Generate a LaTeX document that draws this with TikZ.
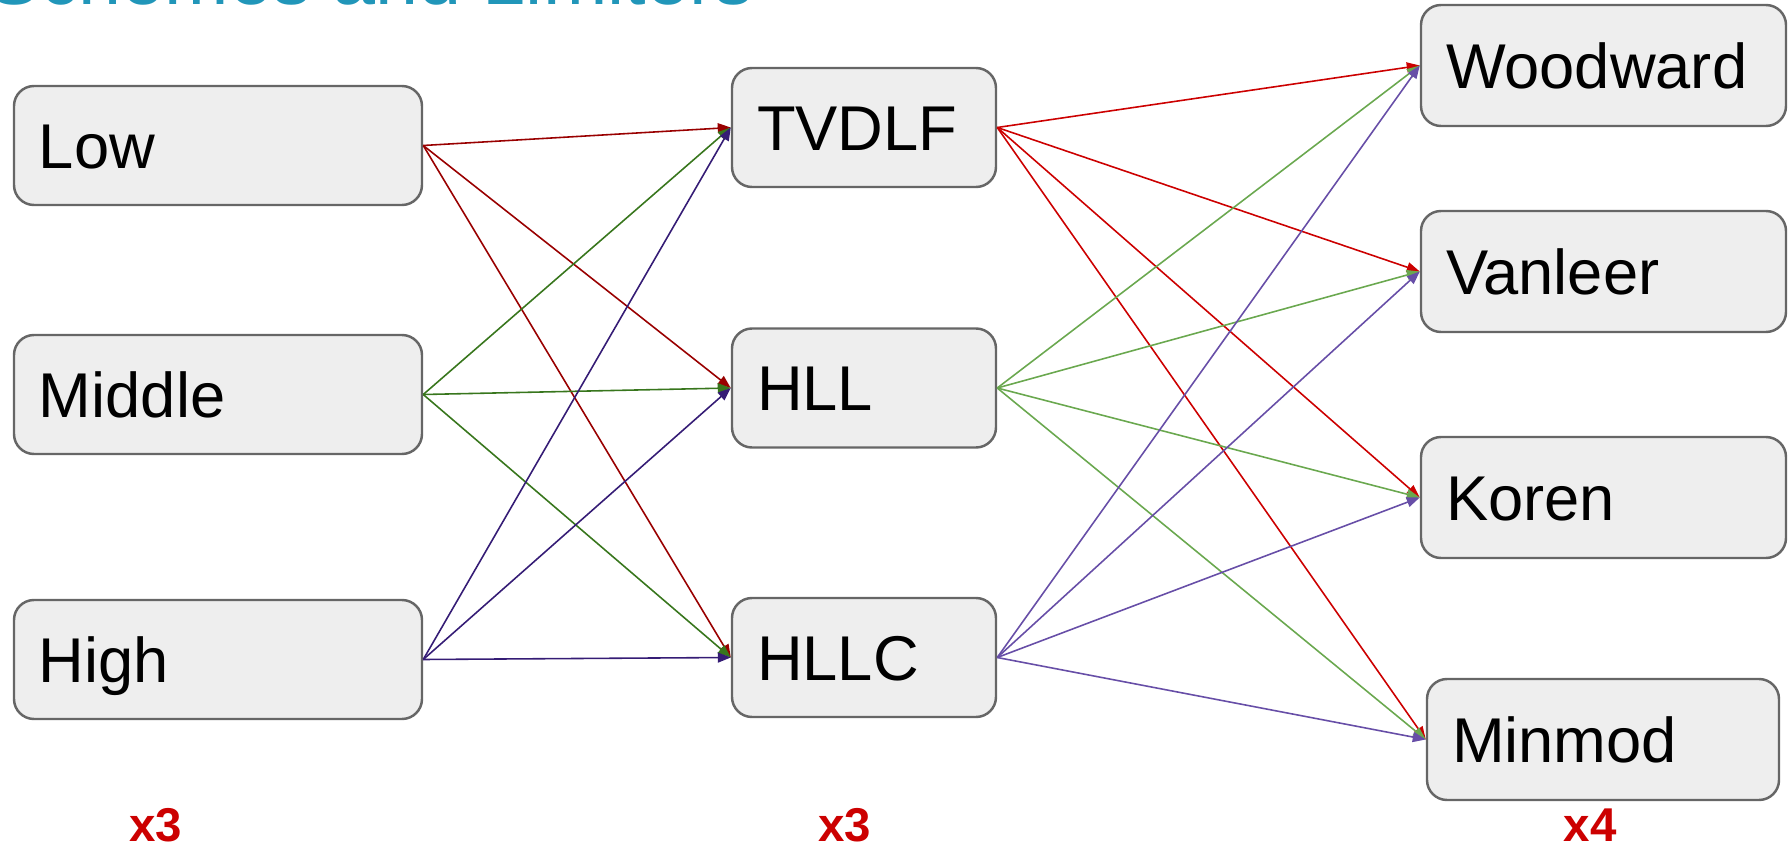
\documentclass[tikz,border=0pt]{standalone}
\usepackage{fontspec}
\setmainfont{Liberation Sans}
\usetikzlibrary{arrows.meta}
\definecolor{edge}{RGB}{102,102,102}
\definecolor{boxfill}{RGB}{238,238,238}
\definecolor{titleC}{RGB}{33,150,185}
\definecolor{lowC}{RGB}{153,0,0}
\definecolor{midC}{RGB}{56,118,29}
\definecolor{highC}{RGB}{53,28,117}
\definecolor{tvdC}{RGB}{204,0,0}
\definecolor{hllC}{RGB}{106,168,79}
\definecolor{hllcC}{RGB}{103,78,167}
\tikzset{
  box/.style={rectangle,rounded corners=2mm,draw=edge,fill=boxfill,line width=0.7pt,
    minimum height=1.19cm,inner xsep=0.25cm,align=left,text height=0.455cm,text depth=0pt,
    font=\fontsize{18}{20}\selectfont},
  lvl/.style={box,text width=3.58cm},
  slv/.style={box,text width=2.14cm},
  lim/.style={box,text width=3.15cm,minimum height=1.21cm},
  arr/.style={-{Triangle[length=1.3mm,width=1mm]},line width=0.45pt},
  count/.style={font=\fontsize{13.5}{15}\selectfont\bfseries,text=tvdC,inner sep=0pt},
}
\begin{document}
\begin{tikzpicture}
\useasboundingbox (0,0) rectangle (17.89,-8.46);
\clip (0,0) rectangle (17.89,-8.46);
% heading, cut at the top edge
\node[anchor=base west,inner sep=0pt,text=titleC,font=\fontsize{22}{24}\selectfont]
  (head) at (-0.12,-0.05) {Schemes and Limiters};
% resolution levels
\node[lvl] (low)  at (2.18,-1.455) {Low};
\node[lvl] (mid)  at (2.18,-3.945) {Middle};
\node[lvl] (high) at (2.18,-6.595) {High};
% solvers
\node[slv] (tvd)  at (8.64,-1.275) {TVDLF};
\node[slv] (hll)  at (8.64,-3.88)  {HLL};
\node[slv] (hllc) at (8.64,-6.575) {HLLC};
% limiters
\node[lim] (wood) at (16.035,-0.655) {Woodward};
\node[lim] (vanl) at (16.035,-2.715) {Vanleer};
\node[lim] (kor)  at (16.035,-4.975) {Koren};
\node[lim,text width=3.02cm] (minm) at (16.03,-7.395) {Minmod};
% level -> solver
\draw[arr,lowC] (low.east) -- (tvd.west);
\draw[arr,lowC] (low.east) -- (hll.west);
\draw[arr,lowC] (low.east) -- (hllc.west);
\draw[arr,midC] (mid.east) -- (tvd.west);
\draw[arr,midC] (mid.east) -- (hll.west);
\draw[arr,midC] (mid.east) -- (hllc.west);
\draw[arr,highC] (high.east) -- (tvd.west);
\draw[arr,highC] (high.east) -- (hll.west);
\draw[arr,highC] (high.east) -- (hllc.west);
% solver -> limiter
\draw[arr,tvdC] (tvd.east) -- (wood.west);
\draw[arr,tvdC] (tvd.east) -- (vanl.west);
\draw[arr,tvdC] (tvd.east) -- (kor.west);
\draw[arr,tvdC] (tvd.east) -- (minm.west);
\draw[arr,hllC] (hll.east) -- (wood.west);
\draw[arr,hllC] (hll.east) -- (vanl.west);
\draw[arr,hllC] (hll.east) -- (kor.west);
\draw[arr,hllC] (hll.east) -- (minm.west);
\draw[arr,hllcC] (hllc.east) -- (wood.west);
\draw[arr,hllcC] (hllc.east) -- (vanl.west);
\draw[arr,hllcC] (hllc.east) -- (kor.west);
\draw[arr,hllcC] (hllc.east) -- (minm.west);
% multiplicities
\node[count] (n1) at (1.56,-8.25)  {x3};
\node[count] (n2) at (8.45,-8.25)  {x3};
\node[count] (n3) at (15.9,-8.25)  {x4};
\end{tikzpicture}
\end{document}
